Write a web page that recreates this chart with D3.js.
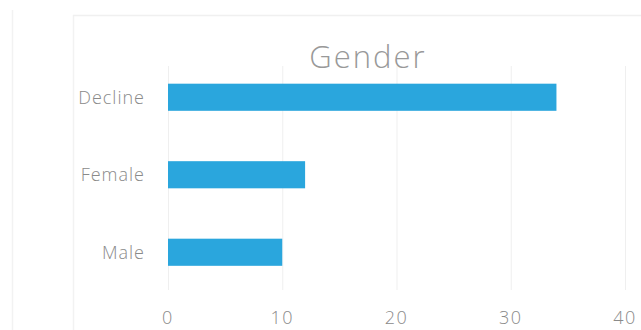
<!DOCTYPE html>
<html>
<head>
<meta charset="utf-8">
<script src="https://cdn.jsdelivr.net/npm/d3@7"></script>
<style>
  html, body { margin: 0; padding: 0; background: #fff; }
  svg { display: block; }
</style>
</head>
<body>
<svg id="chart" width="641" height="330"></svg>
<script>
// Response counts by gender
const categories = ["Decline", "Female", "Male"];
const values = [34, 12, 10];
const xTicks = [0, 10, 20, 30, 40];
const title = "Gender";

const svg = d3.select("#chart");
const W = 641, H = 330;
const fontFam = "'Open Sans', 'Noto Sans', sans-serif";

// outer chart frame lines
svg.append("line").attr("x1", 12.5).attr("x2", 12.5).attr("y1", 10).attr("y2", H)
  .attr("stroke", "#f2f2f2").attr("stroke-width", 1.5);
svg.append("line").attr("x1", 73.5).attr("x2", 73.5).attr("y1", 15).attr("y2", H)
  .attr("stroke", "#f2f2f2").attr("stroke-width", 1.5);
svg.append("line").attr("x1", 73).attr("x2", W).attr("y1", 15.5).attr("y2", 15.5)
  .attr("stroke", "#f0f0f0").attr("stroke-width", 1.5);

const x = d3.scaleLinear().domain([0, 40]).range([168, 625]);
const y = d3.scaleBand().domain(categories).range([58.5, 291]).paddingInner(0.65).paddingOuter(0.325);

// vertical gridlines
svg.append("g").selectAll("line").data(xTicks).join("line")
  .attr("x1", d => x(d) + 0.5).attr("x2", d => x(d) + 0.5)
  .attr("y1", 66).attr("y2", 290)
  .attr("stroke", "#efefef").attr("stroke-width", 1);

// bars
svg.append("g").selectAll("rect").data(values).join("rect")
  .attr("x", x(0))
  .attr("y", (d, i) => y(categories[i]))
  .attr("width", d => x(d) - x(0))
  .attr("height", y.bandwidth())
  .attr("fill", "#2aa6dd");

// category labels
svg.append("g").selectAll("text").data(categories).join("text")
  .attr("x", 145)
  .attr("y", d => y(d) + y.bandwidth() / 2)
  .attr("dy", "0.35em")
  .attr("text-anchor", "end")
  .attr("font-family", fontFam)
  .attr("font-size", 18)
  .attr("font-weight", 300)
  .attr("letter-spacing", 1)
  .attr("fill", "#8a8a8a")
  .text(d => d);

// value axis labels
svg.append("g").selectAll("text").data(xTicks).join("text")
  .attr("x", d => x(d))
  .attr("y", 318)
  .attr("dy", "0.35em")
  .attr("text-anchor", "middle")
  .attr("font-family", fontFam)
  .attr("font-size", 18)
  .attr("font-weight", 300)
  .attr("letter-spacing", 1.5)
  .attr("fill", "#8a8a8a")
  .text(d => d);

// title
svg.append("text")
  .attr("x", 368)
  .attr("y", 57)
  .attr("dy", "0.35em")
  .attr("text-anchor", "middle")
  .attr("font-family", fontFam)
  .attr("font-size", 31)
  .attr("font-weight", 300)
  .attr("letter-spacing", 2)
  .attr("fill", "#999")
  .text(title);
</script>
</body>
</html>
